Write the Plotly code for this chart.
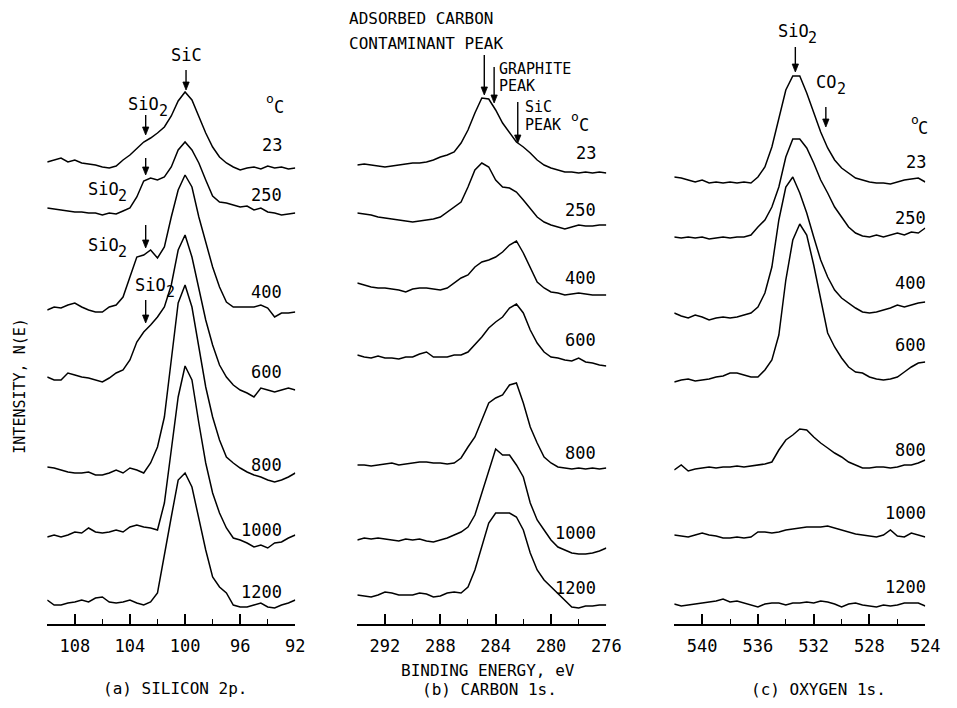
import plotly.graph_objects as go

FONT = "DejaVu Sans Mono"
temps = ["23", "250", "400", "600", "800", "1000", "1200"]

# ---------------- (a) Silicon 2p ----------------
si_energy = [110.0, 109.5, 109.0, 108.5, 108.0, 107.5, 107.0, 106.5, 106.0, 105.5, 105.0, 104.5,
             104.0, 103.5, 103.0, 102.5, 102.0, 101.5, 101.0, 100.5, 100.0, 99.5, 99.0, 98.5,
             98.0, 97.5, 97.0, 96.5, 96.0, 95.5, 95.0, 94.5, 94.0, 93.5, 93.0, 92.5, 92.0]
si_23 = [1, 3, 5, 1, 3, 0, -1, -2, -4, -5, -3, 3, 8, 15, 21, 25, 30, 36, 47, 62, 71, 63, 46, 30,
         16, 6, 0, -4, -7, -5, -4, -6, -3, -5, -4, -6, -5]
si_250 = [2, 1, 0, -1, -2, -2, -3, -3, -5, -3, -4, -1, 2, 13, 29, 32, 30, 33, 43, 60, 68, 60, 47, 30,
          14, 8, 7, 5, 3, 4, 0, 2, -2, -3, -5, -4, -3]
si_400 = [0, 3, 2, 5, 7, 3, 0, -2, -2, 3, 5, 13, 33, 53, 55, 60, 52, 63, 93, 120, 135, 123, 93, 67,
          43, 23, 8, 3, 3, 3, 3, 5, 2, -7, -3, -3, -2]
si_600 = [1, -2, -2, 5, 3, 1, 0, -2, -4, 0, 5, 8, 18, 36, 46, 53, 61, 71, 93, 128, 143, 121, 88, 58,
          33, 13, 1, -7, -12, -15, -19, -10, -12, -14, -12, -10, -12]
si_800 = [1, 0, -2, -4, -5, -5, -4, -7, -7, -5, -2, -5, 0, -2, -5, 5, 21, 51, 108, 165, 183, 161, 121, 81,
          51, 28, 11, 5, 0, -4, -7, -9, -12, -14, -12, -9, -5]
si_1000 = [-2, 0, -2, 0, 3, 2, 7, 3, 2, 3, 5, 3, 8, 10, 8, 7, 5, 32, 85, 138, 169, 155, 112, 72,
           42, 22, 7, -3, -5, -8, -12, -10, -13, -8, -7, -3, 0]
si_1200 = [2, -3, -3, -1, 0, 2, 0, 4, 5, 0, -1, 0, 2, -1, -3, 0, 9, 45, 85, 122, 129, 115, 82, 52,
           25, 15, 9, -3, -5, -5, -3, -1, -5, -6, -3, -1, 2]
si_offset = [461, 414, 314, 246, 156, 89, 22]
si_tickvals = [108, 104, 100, 96, 92]
si_ticktext = ["108", "104", "100", "96", "92"]
si_minor = [106, 102, 98, 94]

# ---------------- (b) Carbon 1s ----------------
c_energy = [294.0, 293.5, 293.0, 292.5, 292.0, 291.5, 291.0, 290.5, 290.0, 289.5, 289.0, 288.5,
            288.0, 287.5, 287.0, 286.5, 286.0, 285.5, 285.0, 284.5, 284.0, 283.5, 283.0, 282.5,
            282.0, 281.5, 281.0, 280.5, 280.0, 279.5, 279.0, 278.5, 278.0, 277.5, 277.0, 276.5, 276.0]
c_23 = [0, 1, 0, -1, -2, -1, 0, 1, 2, 2, 3, 5, 8, 10, 13, 22, 35, 52, 67, 66, 55, 42, 32, 23,
        18, 12, 5, 0, -3, -5, -7, -7, -8, -7, -8, -7, -8]
c_250 = [2, 1, 0, -2, -3, -4, -5, -6, -7, -6, -5, -4, -2, 3, 8, 13, 28, 45, 52, 48, 35, 28, 27, 23,
         15, 7, -2, -7, -10, -12, -14, -12, -10, -11, -11, -10, -10]
c_400 = [5, 3, 1, 0, 0, -1, -2, -4, -1, 0, 0, -1, -2, 0, 5, 10, 13, 21, 26, 28, 31, 36, 43, 47,
         35, 21, 6, 0, -4, -5, -7, -6, -5, -6, -7, -7, -7]
c_600 = [2, 0, -1, 1, -1, -1, -2, 0, 0, 3, 5, 0, 0, 0, 2, 2, 5, 12, 20, 29, 35, 40, 49, 53,
         44, 27, 14, 5, 0, -1, -3, -4, -1, -5, -6, -8, -9]
c_800 = [-1, -1, -2, -1, 0, 1, -1, 0, 1, 2, 2, 1, 1, 0, 1, 6, 17, 27, 44, 61, 66, 69, 79, 81,
         61, 37, 21, 7, 1, -3, -4, -5, -4, -5, -4, -5, -4]
c_1000 = [-1, 1, 0, 1, 0, -1, -2, 0, -1, 0, -2, -3, -1, 1, 4, 7, 12, 24, 46, 69, 90, 84, 84, 74,
          62, 36, 19, 9, -1, -8, -11, -14, -15, -15, -14, -12, -9]
c_1200 = [0, -1, -2, 0, 3, 2, 0, 0, 0, 2, 1, -2, -1, 2, 3, 2, 8, 25, 48, 72, 82, 82, 82, 78,
          65, 42, 25, 15, 8, 2, -5, -12, -13, -11, -11, -10, -10]
c_offset = [459, 409, 336, 267, 160, 85, 29]
c_tickvals = [292, 288, 284, 280, 276]
c_ticktext = ["292", "288", "284", "280", "276"]
c_minor = [290, 286, 282, 278]

# ---------------- (c) Oxygen 1s ----------------
o_energy = [542.0, 541.5, 541.0, 540.5, 540.0, 539.5, 539.0, 538.5, 538.0, 537.5, 537.0, 536.5,
            536.0, 535.5, 535.0, 534.5, 534.0, 533.5, 533.0, 532.5, 532.0, 531.5, 531.0, 530.5,
            530.0, 529.5, 529.0, 528.5, 528.0, 527.5, 527.0, 526.5, 526.0, 525.5, 525.0, 524.5, 524.0]
o_23 = [3, 2, 0, -2, 0, -3, -2, -3, -2, -3, -2, -3, 3, 13, 33, 60, 90, 104, 104, 87, 67, 48, 32, 20,
        12, 7, 2, 0, -2, -3, -3, -4, -2, 0, 1, 2, -2]
o_250 = [0, -1, 0, -1, 0, -2, -1, 0, -1, 0, 0, 2, 10, 17, 30, 50, 80, 98, 98, 89, 74, 57, 44, 30,
         20, 10, 4, 1, 0, 2, 0, 2, 4, 2, 5, 4, 9]
o_400 = [2, -1, -3, 0, -2, -5, -3, -2, -3, -2, 0, 2, 8, 22, 48, 95, 128, 138, 122, 102, 78, 55, 38, 25,
         17, 12, 7, 3, 2, 3, 5, 7, 10, 8, 10, 12, 13]
o_600 = [-2, 0, 1, -1, 0, 1, 3, 4, 7, 7, 5, 3, 3, 10, 20, 45, 100, 140, 156, 145, 115, 80, 47, 33,
         22, 13, 8, 7, 3, 1, 0, 1, 3, 8, 13, 17, 18]
o_800 = [-3, 2, -4, -2, -1, 0, -1, 0, 0, 1, 0, 1, 2, 3, 5, 17, 27, 32, 38, 37, 30, 24, 19, 14,
         10, 5, 2, -1, -1, 0, 0, -1, 0, 2, 2, 4, 7]
o_1000 = [1, 0, -1, 1, 3, 1, 0, -2, -2, -1, -2, -1, 4, 4, 3, 4, 6, 7, 8, 9, 9, 9, 10, 8,
          6, 4, 2, 1, 0, -1, 1, 6, 0, -1, 3, 1, -1]
o_1200 = [0, -2, -1, 0, 1, 2, 3, 5, 2, 3, 1, -1, -3, 0, 1, 1, -1, 1, 1, 2, 1, 3, 2, 0,
          -3, 0, 1, -1, -2, -3, -1, -2, -1, 1, 1, 1, -2]
o_offset = [444, 387, 309, 244, 157, 88, 20]
o_tickvals = [540, 536, 532, 528, 524]
o_ticktext = ["540", "536", "532", "528", "524"]
o_minor = [538, 534, 530, 526]

panels = [
    ("x", "y", si_energy, [si_23, si_250, si_400, si_600, si_800, si_1000, si_1200], si_offset),
    ("x2", "y2", c_energy, [c_23, c_250, c_400, c_600, c_800, c_1000, c_1200], c_offset),
    ("x3", "y3", o_energy, [o_23, o_250, o_400, o_600, o_800, o_1000, o_1200], o_offset),
]

W, H = 957, 708


def px(x):
    return x / W


def py(y):
    return (H - y) / H


fig = go.Figure()
for xa, ya, en, spectra, offs in panels:
    for spec, off, t in zip(spectra, offs, temps):
        fig.add_trace(go.Scatter(x=en, y=[v + off for v in spec], xaxis=xa, yaxis=ya,
                                 mode="lines", line=dict(color="black", width=1.5),
                                 name=t, hoverinfo="skip", showlegend=False))

YDOM = [py(624), py(60)]
YRANGE = [0, 564]


def xaxis_cfg(dom, rng, tv, tt, mn, anchor):
    return dict(domain=dom, range=rng, anchor=anchor, tickmode="array", tickvals=tv, ticktext=tt,
                ticks="inside", ticklen=10, tickwidth=1.5, tickcolor="black",
                showline=True, linecolor="black", linewidth=1.5, showgrid=False, zeroline=False,
                tickfont=dict(family=FONT, size=17, color="black"), ticklabelstandoff=6,
                minor=dict(tickvals=mn, ticks="inside", ticklen=5, tickwidth=1.2, tickcolor="black",
                           showgrid=False))


def yaxis_cfg(anchor):
    return dict(domain=YDOM, range=YRANGE, anchor=anchor, visible=False, showgrid=False, zeroline=False)


fig.update_layout(
    width=W, height=H, margin=dict(l=0, r=0, t=0, b=0),
    paper_bgcolor="white", plot_bgcolor="white", showlegend=False,
    xaxis=xaxis_cfg([px(48), px(300)], [110, 92], si_tickvals, si_ticktext, si_minor, "y"),
    xaxis2=xaxis_cfg([px(363), px(616)], [294, 276], c_tickvals, c_ticktext, c_minor, "y2"),
    xaxis3=xaxis_cfg([px(685), px(940)], [542, 524], o_tickvals, o_ticktext, o_minor, "y3"),
    yaxis=yaxis_cfg("x"), yaxis2=yaxis_cfg("x2"), yaxis3=yaxis_cfg("x3"),
)

ann = []
shapes = []


def text(x, y, s, size=16, xanchor="center", angle=0):
    ann.append(dict(x=px(x), y=py(y), xref="paper", yref="paper", text=s, showarrow=False,
                    xanchor=xanchor, yanchor="middle", textangle=angle,
                    font=dict(family=FONT, size=size, color="black")))


def formula(xl, y, main, sub, size=17):
    # main text left-anchored at xl, lowered subscript digit right after it
    w = 0.602 * size * len(main)
    text(xl, y, main, size, "left")
    text(xl + w + 0.5, y + 7, sub, size - 2, "left")


def degc(xl, y):
    text(xl, y - 6, "o", 13, "left")
    text(xl + 8, y + 3, "C", 17, "left")


def arrow(x, tip, tail):
    # vertical shaft plus filled arrowhead, drawn as paper-referenced shapes
    shapes.append(dict(type="line", xref="paper", yref="paper",
                       x0=px(x), x1=px(x), y0=py(tail), y1=py(tip - 6),
                       line=dict(color="black", width=1.4)))
    path = "M {:.5f},{:.5f} L {:.5f},{:.5f} L {:.5f},{:.5f} Z".format(
        px(x - 3.2), py(tip - 8), px(x + 3.2), py(tip - 8), px(x), py(tip))
    shapes.append(dict(type="path", xref="paper", yref="paper", path=path,
                       fillcolor="black", line=dict(color="black", width=0.8)))


# panel (a)
text(189, 55, "SiC", 17)
arrow(189, 90, 70)
formula(128, 104, "SiO", "2")
arrow(148, 135, 115)
formula(87, 189, "SiO", "2")
arrow(148, 175, 158)
formula(87, 245, "SiO", "2")
arrow(148, 248, 225)
formula(135, 285, "SiO", "2")
arrow(148, 323, 300)
degc(268, 104)
for t, yy in zip(temps, [145, 195, 292, 372, 465, 530, 592]):
    text(289, yy, t, 17, "right")

# panel (b)
text(353, 18, "ADSORBED CARBON", 16, "left")
text(353, 43, "CONTAMINANT PEAK", 16, "left")
arrow(492, 95, 55)
arrow(502, 103, 67)
text(505, 69, "GRAPHITE", 15, "left")
text(505, 86, "PEAK", 15, "left")
arrow(526, 143, 102)
text(531, 107, "SiC", 15, "left")
text(531, 125, "PEAK", 15, "left")
degc(578, 122)
for t, yy in zip(temps, [153, 210, 278, 340, 453, 533, 588]):
    text(608, yy, t, 17, "right")

# panel (c)
formula(788, 31, "SiO", "2")
arrow(808, 72, 47)
formula(827, 82, "CO", "2")
arrow(839, 127, 107)
degc(923, 125)
for t, yy in zip(temps, [162, 218, 283, 345, 450, 513, 587]):
    text(943, yy, t, 17, "right")

# axis titles / captions
text(496, 670, "BINDING ENERGY, eV", 16)
text(178, 688, "(a) SILICON 2p.", 16)
text(497, 689, "(b) CARBON 1s.", 16)
text(832, 689, "(c) OXYGEN 1s.", 16)
text(20, 386, "INTENSITY, N(E)", 15, "center", -90)

fig.update_layout(annotations=ann, shapes=shapes)
fig.write_html("out.html")
